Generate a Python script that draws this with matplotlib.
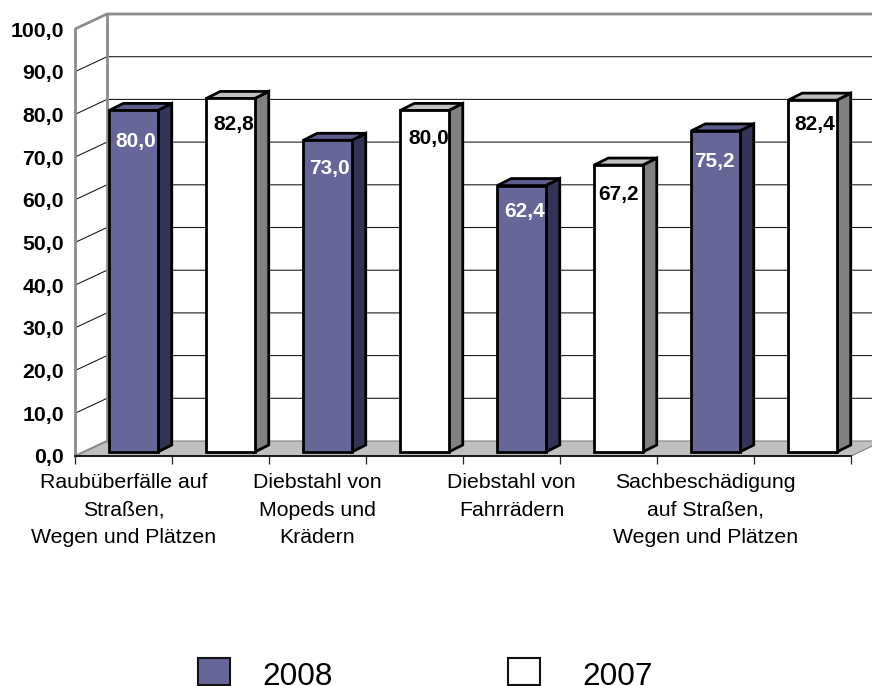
import matplotlib
matplotlib.use("Agg")
import matplotlib.pyplot as plt
from matplotlib.patches import Polygon, Rectangle

plt.rcParams["font.family"] = ["Liberation Sans", "DejaVu Sans"]

categories = ["Raubüberfälle auf\nStraßen,\nWegen und Plätzen",
              "Diebstahl von\nMopeds und\nKrädern",
              "Diebstahl von\nFahrrädern",
              "Sachbeschädigung\nauf Straßen,\nWegen und Plätzen"]
values_2008 = [80.0, 73.0, 62.4, 75.2]
values_2007 = [82.8, 80.0, 67.2, 82.4]
y_ticks = list(range(0, 101, 10))


def fmt(v):
    return f"{v:.1f}".replace(".", ",")


W, H = 872, 686
px_x = 97.0   # pixels per slot
px_y = 4.27   # pixels per unit

fig = plt.figure(figsize=(W / 100, H / 100), dpi=100)
ax = fig.add_axes([75 / W, (H - 456) / H, (W - 75) / W, 456 / H])
ax.set_xlim(0, (W - 75) / px_x)
ax.set_ylim(0, 456 / px_y)
for s in ax.spines.values():
    s.set_visible(False)

# depth of the fake 3d box and of the bars, in data units
box_dx, box_dy = 32 / px_x, 15 / px_y
bar_off_x, bar_off_y = 10 / px_x, 4 / px_y
bar_dx, bar_dy = 14 / px_x, 7 / px_y
xmax = 8.0

# the value labels sit a bit differently on each bar (pixels right of centre, pixels below top)
label_shift_x = [2.5, 3, 2, 4, 3, 0, -1, 2]
label_shift_y = [31, 26, 28, 28, 26, 29, 31, 24]

# floor
ax.add_patch(Polygon([(0, 0), (xmax, 0), (xmax + box_dx, box_dy), (box_dx, box_dy)],
                     facecolor="#c0c0c0", edgecolor="#808080", lw=0.8, zorder=1, clip_on=False))
# grid on the back and left walls
for v in y_ticks[1:]:
    c, lw = ("#8c8c8c", 2.0) if v == 100 else ("#111111", 0.75)
    ax.plot([0, box_dx, xmax + box_dx], [v, v + box_dy, v + box_dy], color=c, lw=lw,
            zorder=1.5, clip_on=True, solid_capstyle="round")
ax.plot([0, 0], [0, 100], color="#8c8c8c", lw=2.0, zorder=2, clip_on=False)
ax.plot([box_dx, box_dx], [box_dy, 100 + box_dy], color="#8c8c8c", lw=2.0, zorder=2)
ax.plot([0, box_dx], [0, box_dy], color="#8c8c8c", lw=1.5, zorder=2)
ax.plot([0, xmax], [0, 0], color="black", lw=1.2, zorder=2, clip_on=False)


def draw_bar(slot, value, front, side, top, txt):
    left = slot + 0.5 - 0.25 + bar_off_x
    right = left + 0.5
    ax.bar(left + 0.25, value, 0.5, bottom=bar_off_y, facecolor=front,
           edgecolor="black", lw=2.0, zorder=4)
    y1 = bar_off_y + value
    ax.add_patch(Polygon([(right, bar_off_y), (right + bar_dx, bar_off_y + bar_dy),
                          (right + bar_dx, y1 + bar_dy), (right, y1)],
                         facecolor=side, edgecolor="black", lw=2.0, zorder=3.5, joinstyle="miter"))
    ax.add_patch(Polygon([(left, y1), (left + bar_dx, y1 + bar_dy),
                          (right + bar_dx, y1 + bar_dy), (right, y1)],
                         facecolor=top, edgecolor="black", lw=2.0, zorder=3.5, joinstyle="miter"))
    ax.text(left + 0.25 + label_shift_x[slot] / px_x, y1 - label_shift_y[slot] / px_y, fmt(value),
            color=txt, fontsize=15, fontweight="bold", ha="center", va="center", zorder=6)


for i in range(len(categories)):
    draw_bar(2 * i, values_2008[i], "#666699", "#333355", "#5c5c8c", "white")
    draw_bar(2 * i + 1, values_2007[i], "white", "#808080", "#c0c0c0", "black")

ax.set_yticks(y_ticks)
ax.set_yticklabels([fmt(v) for v in y_ticks], fontsize=15.3, fontweight="bold")
ax.tick_params(axis="y", length=0, pad=8)
ax.set_xticks(range(0, 9))
ax.set_xticklabels([])
ax.tick_params(axis="x", which="major", length=5.5, width=0.9, color="#222222")
ax.set_xticks([2 * i + 0.5 for i in range(len(categories))], minor=True)
ax.set_xticklabels(categories, minor=True, fontsize=15.3, linespacing=1.55, ha="center", va="top")
ax.tick_params(axis="x", which="minor", length=0, pad=12.5)

# legend keys and texts are not evenly spaced in the original, so placed by hand
for label, face, key_x, text_x in [("2008", "#666699", 198, 262), ("2007", "white", 508, 582)]:
    fig.add_artist(Rectangle((key_x / W, (H - 685) / H), 32 / W, 27 / H, transform=fig.transFigure,
                             facecolor=face, edgecolor="#111111", lw=1.5))
    fig.text(text_x / W, (H - 685) / H, label, fontsize=22.7, ha="left", va="baseline")

fig.savefig("out.png", dpi=100)
